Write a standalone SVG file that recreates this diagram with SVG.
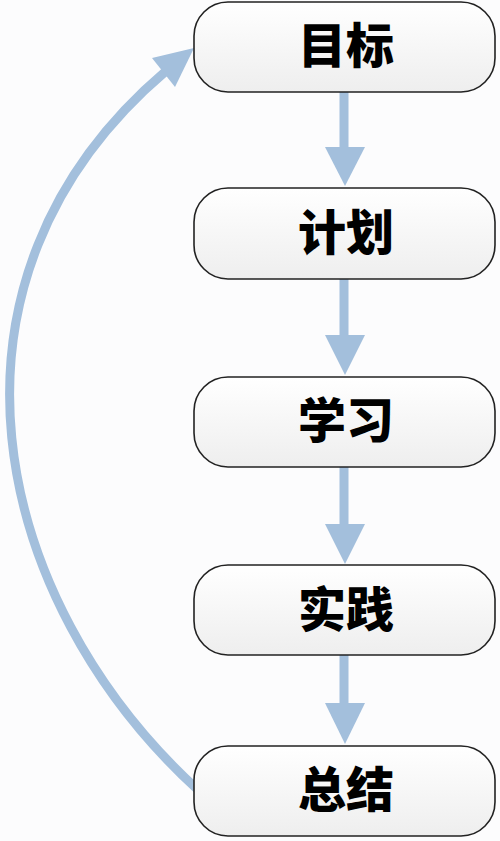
<svg xmlns="http://www.w3.org/2000/svg" width="500" height="841" viewBox="0 0 500 841">
<defs>
<linearGradient id="g" x1="0" y1="0" x2="0" y2="1">
<stop offset="0" stop-color="#ffffff"/>
<stop offset="1" stop-color="#eeeeee"/>
</linearGradient>
<marker id="ah" viewBox="0 0 10 10" refX="10" refY="5" markerWidth="4" markerHeight="4" orient="auto" markerUnits="strokeWidth">
<path d="M0,0 L10,5 L0,10 Z" fill="#a3bfdc"/>
</marker>
<style>
.box{fill:url(#g);stroke:#222;stroke-width:1.6}
.lbl{font-family:"Noto Sans CJK SC","Noto Sans CJK TC",sans-serif;font-weight:900;font-size:48px;fill:#000;text-anchor:middle}
.conn{stroke:#a3bfdc;stroke-width:9;fill:none}
.head{fill:#a3bfdc}
</style>
</defs>
<rect width="500" height="841" fill="#fcfcfd"/>
<g id="connectors">
<line class="conn" x1="344" y1="88" x2="344" y2="150"/>
<polygon class="head" points="325,147 365,147 345,186"/>
<line class="conn" x1="344" y1="276" x2="344" y2="338"/>
<polygon class="head" points="325,335 365,335 345,375"/>
<line class="conn" x1="344" y1="465" x2="344" y2="527"/>
<polygon class="head" points="325,524 365,524 345,564"/>
<line class="conn" x1="344" y1="650" x2="344" y2="706"/>
<polygon class="head" points="325,703 365,703 345,744"/>
<path class="conn" d="M198,790 C -10,600 -80,280 166,71"/>
<polygon class="head" points="152,58 175,87 194,48"/>
</g>
<g id="n1"><rect class="box" x="194" y="2" width="301" height="90" rx="34"/><text class="lbl" x="346" y="63">目标</text></g>
<g id="n2"><rect class="box" x="194" y="188" width="301" height="91" rx="34"/><text class="lbl" x="346" y="250">计划</text></g>
<g id="n3"><rect class="box" x="194" y="377" width="301" height="90" rx="34"/><text class="lbl" x="346" y="438">学习</text></g>
<g id="n4"><rect class="box" x="194" y="565" width="301" height="90" rx="34"/><text class="lbl" x="346" y="627">实践</text></g>
<g id="n5"><rect class="box" x="194" y="746" width="301" height="90" rx="34"/><text class="lbl" x="346" y="807">总结</text></g>
</svg>
